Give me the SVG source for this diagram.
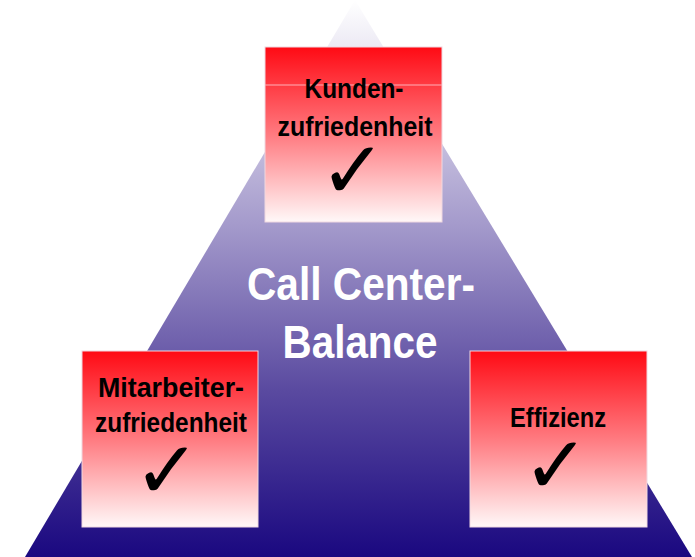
<svg xmlns="http://www.w3.org/2000/svg" width="695" height="557" viewBox="0 0 695 557">
<defs>
<linearGradient id="tri" x1="0" y1="0" x2="0" y2="557" gradientUnits="userSpaceOnUse">
<stop offset="0" stop-color="#ffffff"/>
<stop offset="0.4" stop-color="#a59bcc"/>
<stop offset="0.7" stop-color="#5a4aa0"/>
<stop offset="1" stop-color="#1a0880"/>
</linearGradient>
<linearGradient id="box" x1="0" y1="0" x2="0" y2="1">
<stop offset="0" stop-color="#ff0a14"/>
<stop offset="0.5" stop-color="#ff7a80"/>
<stop offset="1" stop-color="#fff8f8"/>
</linearGradient>
<style>
.b{fill:url(#box);stroke:#f0d8e0;stroke-width:1}
.t{font-family:"Liberation Sans",Arial,sans-serif;font-weight:bold;font-size:28px;fill:#000;text-anchor:middle}
.c{font-family:"DejaVu Sans",sans-serif;font-weight:bold;font-size:80px;fill:#000;text-anchor:middle}
.w{font-family:"Liberation Sans",Arial,sans-serif;font-weight:bold;font-size:46px;fill:#fff;text-anchor:middle}
</style>
</defs>
<rect width="695" height="557" fill="#fff"/>
<g id="pyramid">
<polygon points="355,0 25,557 692,557" fill="url(#tri)"/>
<text class="w" x="361" y="300" textLength="228" lengthAdjust="spacingAndGlyphs">Call Center-</text>
<text class="w" x="360" y="358" textLength="155" lengthAdjust="spacingAndGlyphs">Balance</text>
</g>
<g id="kunden">
<rect class="b" x="265" y="47" width="177" height="175"/>
<line x1="265" y1="85" x2="442" y2="85" stroke="#ffb0b8" stroke-width="1"/>
<text class="t" x="354" y="98" textLength="99" lengthAdjust="spacingAndGlyphs">Kunden-</text>
<text class="t" x="355" y="136" textLength="155" lengthAdjust="spacingAndGlyphs">zufriedenheit</text>
<text class="c" x="353" y="198">✓</text>
</g>
<g id="mitarbeiter">
<rect class="b" x="82" y="351" width="176" height="176"/>
<text class="t" x="171" y="397" textLength="146" lengthAdjust="spacingAndGlyphs">Mitarbeiter-</text>
<text class="t" x="171" y="432" textLength="152" lengthAdjust="spacingAndGlyphs">zufriedenheit</text>
<text class="c" x="167" y="498">✓</text>
</g>
<g id="effizienz">
<rect class="b" x="470" y="351" width="177" height="176"/>
<text class="t" x="558" y="427" textLength="96" lengthAdjust="spacingAndGlyphs">Effizienz</text>
<text class="c" x="556" y="493">✓</text>
</g>
<g id="connectors"/>
</svg>
